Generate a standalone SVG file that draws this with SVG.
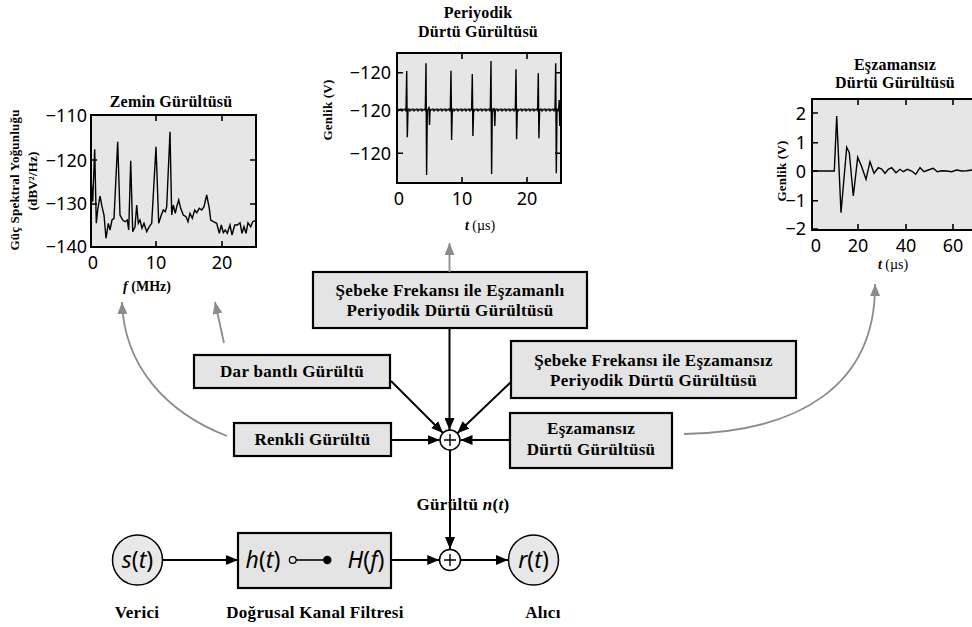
<svg xmlns="http://www.w3.org/2000/svg" width="972" height="627" viewBox="0 0 972 627">
  <style>
    .bg { fill: #ffffff; }
    .plot { fill: #e6e6e6; stroke: #000; stroke-width: 2; }
    .tick { stroke: #000; stroke-width: 1.6; fill: none; }
    .trace { fill: none; stroke: #000; stroke-width: 1.4; stroke-linejoin: miter; }
    .num { font-family: "Noto Sans", "Open Sans", sans-serif; font-size: 18px; fill: #000; }
    .ttl { font-family: "Liberation Serif", "Times New Roman", serif; font-weight: bold; font-size: 16px; letter-spacing: 0.2px; fill: #000; text-anchor: middle; }
    .ax { font-family: "Liberation Serif", "Times New Roman", serif; font-size: 14px; fill: #000; text-anchor: middle; }
    .yl { font-family: "Liberation Serif", "Times New Roman", serif; font-weight: bold; font-size: 13px; letter-spacing: 0.2px; fill: #000; text-anchor: middle; }
    .box { fill: #e4e4e4; stroke: #000; stroke-width: 2.2; }
    .lbl { font-family: "Liberation Serif", "Times New Roman", serif; font-weight: bold; font-size: 17px; letter-spacing: 0.3px; fill: #000; text-anchor: middle; }
    .sig { font-family: "Noto Sans", "Open Sans", sans-serif; font-size: 23px; fill: #000; text-anchor: middle; }
    .sum { fill: #fff; stroke: #000; stroke-width: 1.5; }
    .wire { fill: none; stroke: #000; stroke-width: 2; }
    .gray { fill: none; stroke: #8c8c8c; stroke-width: 1.8; }
    .term { fill: #e8e8e8; stroke: #000; stroke-width: 1.5; }
  </style>
  <defs>
    <marker id="ah" markerUnits="userSpaceOnUse" markerWidth="12" markerHeight="10" refX="12" refY="5" orient="auto">
      <path d="M0,0 L12,5 L0,10 Z" fill="#000"/>
    </marker>
    <marker id="ahg" markerUnits="userSpaceOnUse" markerWidth="12" markerHeight="10" refX="12" refY="5" orient="auto">
      <path d="M0,0 L12,5 L0,10 Z" fill="#8c8c8c"/>
    </marker>
    <pattern id="jit" patternUnits="userSpaceOnUse" x="0" y="106" width="4" height="8">
      <path d="M0,4 L1,2.4 L2,5.6 L3,2.8 L4,4" fill="none" stroke="#000" stroke-width="0.9"/>
    </pattern>
    <clipPath id="clipL"><rect x="91" y="115" width="165" height="132"/></clipPath>
    <clipPath id="clipR"><rect x="812" y="99" width="170" height="131"/></clipPath>
  </defs>

  <rect class="bg" x="0" y="0" width="972" height="627"/>

  <!-- Floor noise spectrum -->
  <g id="plot-floor">
    <text class="ttl" x="171" y="107">Zemin Gürültüsü</text>
    <rect class="plot" x="91" y="115" width="165" height="132"/>
    <g clip-path="url(#clipL)">
      <polyline class="trace" points="91,178.3 92.7,201.7 94.7,149.3 96.3,223.3 97.7,210 100,196 102,206.7 104,215 106,238.3 108.3,223.3 110,230 112,220 114,218.3 117.7,141.7 120,215 122.7,220 125,221.7 127.3,220 128.7,230 130.7,160.7 132.7,231.7 135,226.7 136.7,205 138.3,223.3 140,220 142,228.3 144,223.3 146.7,231.7 149.3,226.7 151.7,223.3 156,146.7 158.7,223.3 161.3,215 163.3,210 165.3,211.7 166.7,206.7 170,131.7 171.7,215 173.3,205 175.3,213.3 176.7,206.7 178.7,200 180.7,208.3 183.3,215 186,216.7 188,221.7 190,213.3 192.3,218.3 194.7,210 196.7,212.7 199.3,208.3 201.7,210 204,206.7 206.7,195 209.3,208.3 210.7,220 213.3,221.7 216.7,223.3 219.3,233.3 221.3,225 223.3,232.7 225.3,230 227.3,233.3 230,225 232,235 234.7,225 237.3,225 240,222.7 242,233.3 244,226.7 246,233.3 248,222.7 250.7,226.7 252.7,221.7 256.7,220"/>
    </g>
    <path class="tick" d="M156,115 v6 M222,115 v6 M156,247 v-6 M222,247 v-6 M91,160 h6 M91,204 h6 M256,160 h-6 M256,204 h-6"/>
    <g class="num" text-anchor="end">
      <text x="87" y="122">−110</text>
      <text x="87" y="167">−120</text>
      <text x="87" y="210">−130</text>
      <text x="87" y="253">−140</text>
    </g>
    <g class="num" text-anchor="middle">
      <text x="93" y="269">0</text>
      <text x="156" y="269">10</text>
      <text x="222" y="269">20</text>
    </g>
    <text class="ax" x="147" y="291" font-weight="bold"><tspan font-style="italic">f</tspan> (MHz)</text>
    <text class="yl" transform="translate(19,180) rotate(-90)">Güç Spektral Yoğunluğu</text>
    <text class="yl" transform="translate(37,181) rotate(-90)">(dBV²/Hz)</text>
  </g>

  <!-- Periodic impulse noise -->
  <g id="plot-periodic">
    <text class="ttl" x="478" y="18">Periyodik</text>
    <text class="ttl" x="478" y="37">Dürtü Gürültüsü</text>
    <rect class="plot" x="397" y="53" width="164" height="130"/>
    <line x1="398" y1="110" x2="560" y2="110" stroke="#000" stroke-width="1.2"/>
    <rect x="398" y="106" width="162" height="8" fill="url(#jit)"/>
    <g class="trace" stroke-width="1.5">
      <polyline points="406,110 406.7,71 407.3,137.3 408,110"/>
      <polyline points="425.3,110 426,63.3 426.6,175 427.3,110"/>
      <polyline points="428.6,110 429,106.7 429.5,125 430,110"/>
      <polyline points="450.3,110 451,70.7 451.6,140 452.3,110"/>
      <polyline points="471.6,110 472.3,74 472.9,136 473.6,110"/>
      <polyline points="490.3,110 491,61 491.6,174 492.3,110"/>
      <polyline points="493.8,110 494.3,108 494.8,126 495.3,110"/>
      <polyline points="515.3,110 516,69.3 516.6,139.3 517.3,110"/>
      <polyline points="537.6,110 538.3,73.3 538.9,138.3 539.6,110"/>
      <polyline points="555,110 555.7,63.3 556.3,173.3 557,110"/>
      <polyline points="558.6,110 559.2,100 559.8,126 560.4,110"/>
    </g>
    <path class="tick" d="M462,53 v6 M527,53 v6 M462,183 v-6 M527,183 v-6 M397,72.7 h6 M397,110 h6 M397,153.3 h6 M561,72.7 h-6 M561,110 h-6 M561,153.3 h-6"/>
    <g class="num" text-anchor="end">
      <text x="391" y="79">−120</text>
      <text x="391" y="117">−120</text>
      <text x="391" y="160">−120</text>
    </g>
    <g class="num" text-anchor="middle">
      <text x="399" y="205">0</text>
      <text x="462" y="205">10</text>
      <text x="527" y="205">20</text>
    </g>
    <text class="ax" x="480" y="230"><tspan font-weight="bold" font-style="italic">t</tspan> (µs)</text>
    <text class="yl" transform="translate(332,110) rotate(-90)">Genlik (V)</text>
  </g>

  <!-- Asynchronous impulse noise -->
  <g id="plot-async">
    <text class="ttl" x="895" y="70">Eşzamansız</text>
    <text class="ttl" x="895" y="88">Dürtü Gürültüsü</text>
    <rect class="plot" x="812" y="99" width="175" height="131"/>
    <g clip-path="url(#clipR)">
      <polyline class="trace" points="812.3,171 834.3,171 836.7,116 841,212.7 846.7,147.3 849.3,152.7 853.3,196 857.7,157.3 861.7,166.7 866,179.3 870,161.7 874,173.3 878.3,167.7 881.7,169 885,173.3 888.3,169.3 891.7,167.7 896,172.7 900,169.3 903.3,171.7 907.3,169.3 911.7,171 915.7,174.3 920,167.7 924,171.7 928.3,170 933.3,168.3 937.3,171.7 941.7,170.7 946.7,171 951.7,171.7 956.7,170 961.7,171 966.7,170.7 972,170"/>
    </g>
    <path class="tick" d="M858,99 v6 M906,99 v6 M953,99 v6 M858,230 v-6 M906,230 v-6 M953,230 v-6 M812,113 h6 M812,142.7 h6 M812,171 h6 M812,200.7 h6 M812,229 h6"/>
    <g class="num" text-anchor="end">
      <text x="806" y="120">2</text>
      <text x="806" y="149">1</text>
      <text x="806" y="177.5">0</text>
      <text x="806" y="207">−1</text>
      <text x="806" y="235">−2</text>
    </g>
    <g class="num" text-anchor="middle">
      <text x="816" y="252">0</text>
      <text x="858" y="252">20</text>
      <text x="906" y="252">40</text>
      <text x="953" y="252">60</text>
    </g>
    <text class="ax" x="893" y="269"><tspan font-weight="bold" font-style="italic">t</tspan> (µs)</text>
    <text class="yl" transform="translate(786,171) rotate(-90)">Genlik (V)</text>
  </g>

  <!-- Noise source boxes -->
  <g id="src-sync">
    <rect class="box" x="313" y="272" width="274" height="56"/>
    <text class="lbl" x="450" y="296">Şebeke Frekansı ile Eşzamanlı</text>
    <text class="lbl" x="450" y="316">Periyodik Dürtü Gürültüsü</text>
  </g>
  <g id="src-narrow">
    <rect class="box" x="194" y="355" width="196" height="33"/>
    <text class="lbl" x="292" y="377">Dar bantlı Gürültü</text>
  </g>
  <g id="src-colored">
    <rect class="box" x="234" y="423" width="157" height="33"/>
    <text class="lbl" x="312.5" y="445">Renkli Gürültü</text>
  </g>
  <g id="src-async-periodic">
    <rect class="box" x="511" y="341" width="285" height="57"/>
    <text class="lbl" x="653.5" y="366">Şebeke Frekansı ile Eşzamansız</text>
    <text class="lbl" x="653.5" y="386">Periyodik Dürtü Gürültüsü</text>
  </g>
  <g id="src-async">
    <rect class="box" x="510" y="413" width="162" height="55"/>
    <text class="lbl" x="591" y="434">Eşzamansız</text>
    <text class="lbl" x="591" y="455">Dürtü Gürültüsü</text>
  </g>

  <!-- Connectors -->
  <g id="connectors">
    <line class="wire" x1="449.5" y1="328" x2="449.5" y2="430" marker-end="url(#ah)"/>
    <line class="wire" x1="391" y1="381" x2="443" y2="433" marker-end="url(#ah)"/>
    <line class="wire" x1="391" y1="440" x2="439.5" y2="440" marker-end="url(#ah)"/>
    <line class="wire" x1="511" y1="382" x2="457.3" y2="433.2" marker-end="url(#ah)"/>
    <line class="wire" x1="510" y1="440" x2="460.5" y2="440" marker-end="url(#ah)"/>
    <line class="wire" x1="450" y1="450" x2="450" y2="549" marker-end="url(#ah)"/>
    <line class="wire" x1="163" y1="560" x2="238" y2="560" marker-end="url(#ah)"/>
    <line class="wire" x1="391" y1="560" x2="439.3" y2="560" marker-end="url(#ah)"/>
    <line class="wire" x1="460.7" y1="560" x2="508" y2="560" marker-end="url(#ah)"/>
    <line class="gray" x1="449.5" y1="272" x2="449.5" y2="243" marker-end="url(#ahg)"/>
    <line class="gray" x1="224" y1="343" x2="215" y2="302" marker-end="url(#ahg)"/>
    <path class="gray" d="M227,436 C165,412 124,365 122,302" marker-end="url(#ahg)"/>
    <path class="gray" d="M684,434 C800,432 876,385 875,284" marker-end="url(#ahg)"/>
  </g>

  <!-- Noise summing junction -->
  <g id="sum-noise">
    <circle class="sum" cx="450" cy="440" r="10"/>
    <path d="M444,440 h12 M450,434 v12" stroke="#000" stroke-width="1.4"/>
  </g>
  <text class="lbl" x="463" y="510" text-anchor="start" font-size="16">Gürültü <tspan font-style="italic">n</tspan>(<tspan font-style="italic">t</tspan>)</text>

  <!-- Transmitter -->
  <g id="tx">
    <circle class="term" cx="137.5" cy="560" r="25"/>
    <text class="sig" x="137.5" y="568"><tspan font-style="italic">s</tspan>(<tspan font-style="italic">t</tspan>)</text>
    <text class="lbl" x="137" y="618" font-size="16">Verici</text>
  </g>

  <!-- Linear channel filter -->
  <g id="channel">
    <rect class="box" x="238" y="533" width="153" height="55"/>
    <text class="sig" x="263" y="568"><tspan font-style="italic">h</tspan>(<tspan font-style="italic">t</tspan>)</text>
    <line x1="296" y1="560" x2="324" y2="560" stroke="#000" stroke-width="1.6"/>
    <circle cx="292.7" cy="560" r="3.4" fill="#e4e4e4" stroke="#000" stroke-width="1.2"/>
    <circle cx="327.3" cy="560" r="4.2" fill="#000"/>
    <text class="sig" x="366" y="568"><tspan font-style="italic">H</tspan>(<tspan font-style="italic">f</tspan>)</text>
    <text class="lbl" x="315" y="618" font-size="16">Doğrusal Kanal Filtresi</text>
  </g>

  <!-- Channel summing junction -->
  <g id="sum-channel">
    <circle class="sum" cx="450" cy="560" r="10.5"/>
    <path d="M444,560 h12 M450,554 v12" stroke="#000" stroke-width="1.4"/>
  </g>

  <!-- Receiver -->
  <g id="rx">
    <circle class="term" cx="533.5" cy="560" r="25"/>
    <text class="sig" x="533.5" y="568"><tspan font-style="italic">r</tspan>(<tspan font-style="italic">t</tspan>)</text>
    <text class="lbl" x="543" y="618" font-size="16">Alıcı</text>
  </g>
</svg>
